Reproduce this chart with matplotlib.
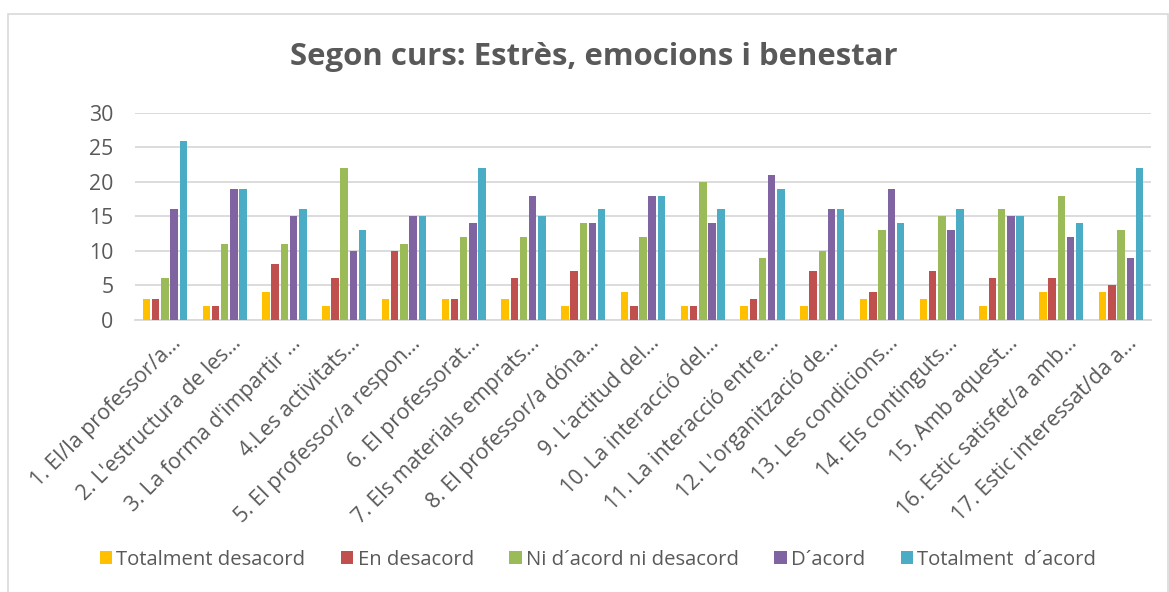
import matplotlib
matplotlib.use("Agg")
import matplotlib.pyplot as plt
import matplotlib.transforms as mtransforms
import numpy as np
from matplotlib.patches import Rectangle

categories = [
    "1. El/la professor/a...",
    "2. L'estructura de les...",
    "3. La forma d'impartir ...",
    "4.Les activitats...",
    "5. El professor/a respon...",
    "6. El professorat...",
    "7. Els materials emprats...",
    "8. El professor/a dóna...",
    "9. L'actitud del...",
    "10. La interacció del...",
    "11. La interacció entre...",
    "12. L'organització de...",
    "13. Les condicions...",
    "14. Els continguts...",
    "15. Amb aquest...",
    "16. Estic satisfet/a amb...",
    "17. Estic interessat/da a...",
]
series_names = ["Totalment desacord", "En desacord", "Ni d\u00b4acord ni desacord",
                "D\u00b4acord", "Totalment  d\u00b4acord"]
totalment_desacord = [3, 2, 4, 2, 3, 3, 3, 2, 4, 2, 2, 2, 3, 3, 2, 4, 4]
en_desacord        = [3, 2, 8, 6, 10, 3, 6, 7, 2, 2, 3, 7, 4, 7, 6, 6, 5]
ni_acord           = [6, 11, 11, 22, 11, 12, 12, 14, 12, 20, 9, 10, 13, 15, 16, 18, 13]
acord              = [16, 19, 15, 10, 15, 14, 18, 14, 18, 14, 21, 16, 19, 13, 15, 12, 9]
totalment_acord    = [26, 19, 16, 13, 15, 22, 15, 16, 18, 16, 19, 16, 14, 16, 15, 14, 22]
yticks = [0, 5, 10, 15, 20, 25, 30]
title = "Segon curs: Estrès, emocions i benestar"

colors = ["#FFC000", "#C0504D", "#9BBB59", "#8064A2", "#4BACC6"]
all_series = [totalment_desacord, en_desacord, ni_acord, acord, totalment_acord]

W, H = 1169, 592
fig = plt.figure(figsize=(W / 100, H / 100), dpi=100)
fig.patch.set_facecolor("white")

# outer chart frame
fig.add_artist(Rectangle((8 / W, -0.05), (1168 - 8) / W, (H - 14) / H + 0.05,
                         transform=fig.transFigure, fill=False,
                         edgecolor="#D9D9D9", linewidth=1.2))

left, right = 135 / W, 1151 / W
bottom = (H - 319.5) / H
top = (H - 113) / H
ax = fig.add_axes([left, bottom, right - left, top - bottom])

FONT = "Open Sans"
TXT = "#595959"
FS = 15.3

x = np.arange(len(categories))
slot = 0.154
bw = 0.125
for i, (vals, c, name) in enumerate(zip(all_series, colors, series_names)):
    ax.bar(x + (i - 2) * slot, vals, width=bw, color=c, label=name, zorder=3)

ax.set_xlim(-0.5, len(categories) - 0.5)
ax.set_ylim(0, 30)
ax.set_yticks(yticks)
ax.set_yticklabels([str(v) for v in yticks], fontsize=FS, color=TXT, family=FONT)
ax.yaxis.grid(True, color="#D9D9D9", linewidth=1.3, zorder=0)
ax.set_axisbelow(True)
for s in ["top", "right", "left"]:
    ax.spines[s].set_visible(False)
ax.spines["bottom"].set_color("#D9D9D9")
ax.spines["bottom"].set_linewidth(1.3)
ax.tick_params(axis="both", length=0)
ax.tick_params(axis="y", pad=15.5)
ax.tick_params(axis="x", pad=15)
ax.set_xticks(x)
ax.set_xticklabels(categories, rotation=45, ha="right", va="center",
                   rotation_mode="anchor", fontsize=FS, color=TXT, family=FONT)
offset = mtransforms.ScaledTranslation(13 / 100, 0, fig.dpi_scale_trans)
for lab in ax.get_xticklabels():
    lab.set_transform(lab.get_transform() + offset)

fig.text(594 / W, 1 - 57 / H, title, ha="center", va="center",
         fontsize=22.4, fontweight="bold", color=TXT, family=FONT)

leg = fig.legend(loc="center", bbox_to_anchor=(598 / W, 1 - 560 / H), ncol=5,
                 frameon=False, prop={"family": FONT, "size": 14.6},
                 handlelength=0.62, handleheight=0.62, handletextpad=0.2,
                 columnspacing=1.75, labelcolor=TXT)

fig.savefig("out.png", dpi=100, facecolor="white")
